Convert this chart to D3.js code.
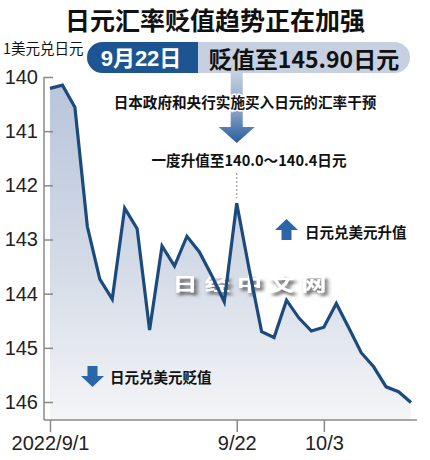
<!DOCTYPE html>
<html><head><meta charset="utf-8">
<script src="https://cdn.jsdelivr.net/npm/d3@7"></script>
<style>body{margin:0;background:#fff}</style>
</head><body><svg id="c" width="430" height="460"></svg>
<script>
const dates = ["9/1","9/2","9/5","9/6","9/7","9/8","9/9","9/12","9/13","9/14","9/15","9/16","9/19","9/20","9/21","9/22","9/23","9/26","9/27","9/28","9/29","9/30","10/3","10/4","10/5","10/6","10/7","10/10","10/11","10/12"];
const values = [140.21,140.15,140.56,142.76,143.73,144.10,142.42,142.80,144.67,143.12,143.49,142.94,143.23,143.67,144.15,142.33,143.55,144.70,144.81,144.12,144.45,144.69,144.62,144.18,144.63,145.09,145.35,145.72,145.81,146.01];
const yTicks = [140,141,142,143,144,145,146];
const xTickDates = ["9/1","9/22","10/3"];
const xTickLabels = ["2022/9/1","9/22","10/3"];
const titleText = "日元汇率贬值趋势正在加强";
const unitText = "1美元兑日元";
const bannerDate = "9月22日";
const bannerValue = "贬值至145.90日元";
const noteText1 = "日本政府和央行实施买入日元的汇率干预";
const noteText2 = "一度升值至140.0～140.4日元";
const upText = "日元兑美元升值";
const downText = "日元兑美元贬值";
const watermark = "日经中文网";

const CJK = "'Noto Sans CJK SC','Noto Sans',sans-serif";
const NARROW = "'Liberation Sans Narrow','Arial Narrow','Liberation Sans',sans-serif";
const svg = d3.select("#c");
const defs = svg.append("defs");

const x = d3.scalePoint().domain(dates).range([50, 411]);
const y = d3.scaleLinear().domain([140, 146]).range([77, 402]);
const baseY = 420, axisX = 44, axisRight = 417;

// gradients
const ag = defs.append("linearGradient").attr("id","ag").attr("gradientUnits","userSpaceOnUse")
  .attr("x1",0).attr("x2",0).attr("y1",y(140)).attr("y2",baseY);
ag.append("stop").attr("offset",0).attr("stop-color","#b7c4da");
ag.append("stop").attr("offset",0.55).attr("stop-color","#d4dbe7");
ag.append("stop").attr("offset",1).attr("stop-color","#f4f5f7");
const arG = defs.append("linearGradient").attr("id","arG").attr("x1",0).attr("x2",0).attr("y1",0).attr("y2",1);
arG.append("stop").attr("offset",0).attr("stop-color","#c9d3e3");
arG.append("stop").attr("offset",0.6).attr("stop-color","#7f9cc4");
arG.append("stop").attr("offset",1).attr("stop-color","#2a5c9b");
const sh = defs.append("filter").attr("id","sh").attr("x","-20%").attr("y","-50%").attr("width","140%").attr("height","200%");
sh.append("feDropShadow").attr("dx",2).attr("dy",3).attr("stdDeviation",1.6).attr("flood-color","#444").attr("flood-opacity",0.95);

// title
svg.append("text").attr("x",215).attr("y",19).attr("text-anchor","middle").attr("dominant-baseline","central")
  .style("font-family",CJK).style("font-weight","bold").style("font-size","25px").attr("fill","#111").text(titleText);
svg.append("text").attr("x",3).attr("y",47).attr("dominant-baseline","central")
  .style("font-family",CJK).style("font-size","14.5px").attr("fill","#111").text(unitText);

// area
svg.append("path").datum(values).attr("fill","url(#ag)")
  .attr("d", d3.area().x((d,i)=>x(dates[i])).y0(baseY).y1(d=>y(d)));

// axes
const yAxis = d3.axisLeft(y).tickValues(yTicks).tickSizeInner(-9).tickSizeOuter(0).tickPadding(6).tickFormat(d3.format("d"));
const gy = svg.append("g").attr("transform",`translate(${axisX},0)`).call(yAxis);
gy.select(".domain").remove();
gy.selectAll(".tick line").attr("stroke","#888").attr("stroke-width",1.5);
gy.selectAll(".tick text").style("font-family",NARROW).style("font-size","20px").attr("fill","#222");
svg.append("line").attr("x1",axisX).attr("x2",axisX).attr("y1",y(140)).attr("y2",baseY).attr("stroke","#888").attr("stroke-width",1.5);

const xAxis = d3.axisBottom(x).tickValues(xTickDates).tickSizeInner(12).tickSizeOuter(0).tickPadding(4)
  .tickFormat(d=>xTickLabels[xTickDates.indexOf(d)]);
const gx = svg.append("g").attr("transform",`translate(0,${baseY})`).call(xAxis);
gx.select(".domain").remove();
gx.selectAll(".tick line").attr("stroke","#888").attr("stroke-width",1.5);
gx.selectAll(".tick text").style("font-family",NARROW).style("font-size","20px").attr("fill","#222");
svg.append("line").attr("x1",axisX).attr("x2",axisRight).attr("y1",baseY).attr("y2",baseY).attr("stroke","#888").attr("stroke-width",1.5);

// watermark (horizontally stretched)
svg.append("g").attr("transform","translate(253,283) scale(1.4,1)")
  .append("text").attr("x",0).attr("y",0).attr("text-anchor","middle").attr("dominant-baseline","central")
  .style("font-family",CJK).style("font-weight","bold").style("font-size","18px").style("letter-spacing","5px")
  .attr("fill","#fff").attr("filter","url(#sh)").text(watermark);

// line
svg.append("path").datum(values).attr("fill","none").attr("stroke","#1c4a7c").attr("stroke-width",3.2)
  .attr("stroke-linejoin","miter")
  .attr("d", d3.line().x((d,i)=>x(dates[i])).y(d=>y(d)));

// intervention annotation
const cx = x("9/22");
const peak = values[dates.indexOf("9/22")];
svg.append("line").attr("x1",cx).attr("x2",cx).attr("y1",173).attr("y2",y(peak)-5)
  .attr("stroke","#999").attr("stroke-width",1.2).attr("stroke-dasharray","2,2");
svg.append("path").attr("fill","url(#arG)")
  .attr("d",`M${cx-6},70 L${cx+6},70 L${cx+6},127 L${cx+18},127 L${cx},143 L${cx-18},127 L${cx-6},127 Z`);

// banner
const bL=87,bR=410,bT=42,bB=73,bM=198,r=(bB-bT)/2;
svg.append("path").attr("fill","#c6d0e1")
  .attr("d",`M${bM},${bT} L${bR-r},${bT} A${r},${r} 0 0 1 ${bR-r},${bB} L${bM},${bB} Z`);
svg.append("path").attr("fill","#1c5592")
  .attr("d",`M${bM},${bT} L${bL+r},${bT} A${r},${r} 0 0 0 ${bL+r},${bB} L${bM},${bB} Z`);
svg.append("text").attr("x",141).attr("y",58).attr("text-anchor","middle").attr("dominant-baseline","central")
  .style("font-family","'Liberation Sans','Noto Sans CJK SC',sans-serif").style("font-weight","bold").style("font-size","22px").attr("fill","#fff").text(bannerDate);
svg.append("text").attr("x",304).attr("y",58).attr("text-anchor","middle").attr("dominant-baseline","central")
  .style("font-family",CJK).style("font-weight","bold").style("font-size","23px").attr("fill","#111").text(bannerValue);

svg.append("text").attr("x",245).attr("y",101).attr("text-anchor","middle").attr("dominant-baseline","central")
  .style("font-family",CJK).style("font-weight","bold").style("font-size","14.6px").attr("fill","#111")
  .attr("stroke","#fff").attr("stroke-width",3).style("paint-order","stroke").text(noteText1);
svg.append("text").attr("x",249).attr("y",159).attr("text-anchor","middle").attr("dominant-baseline","central")
  .style("font-family",CJK).style("font-weight","bold").style("font-size","14.6px").attr("fill","#111").text(noteText2);

// direction arrows
function arrow(cxA, top, up){
  const w=23,h=21,hh=11,sw=10;
  let d;
  if(up) d=`M${cxA},${top} L${cxA+w/2},${top+hh} L${cxA+sw/2},${top+hh} L${cxA+sw/2},${top+h} L${cxA-sw/2},${top+h} L${cxA-sw/2},${top+hh} L${cxA-w/2},${top+hh} Z`;
  else d=`M${cxA-sw/2},${top} L${cxA+sw/2},${top} L${cxA+sw/2},${top+h-hh} L${cxA+w/2},${top+h-hh} L${cxA},${top+h} L${cxA-w/2},${top+h-hh} L${cxA-sw/2},${top+h-hh} Z`;
  svg.append("path").attr("d",d).attr("fill","#2b66a8");
}
arrow(286.5,219,true);
svg.append("text").attr("x",305).attr("y",231).attr("dominant-baseline","central")
  .style("font-family",CJK).style("font-weight","bold").style("font-size","14.5px").attr("fill","#111").text(upText);
arrow(92.5,366,false);
svg.append("text").attr("x",110).attr("y",376).attr("dominant-baseline","central")
  .style("font-family",CJK).style("font-weight","bold").style("font-size","14.5px").attr("fill","#111").text(downText);
</script></body></html>
